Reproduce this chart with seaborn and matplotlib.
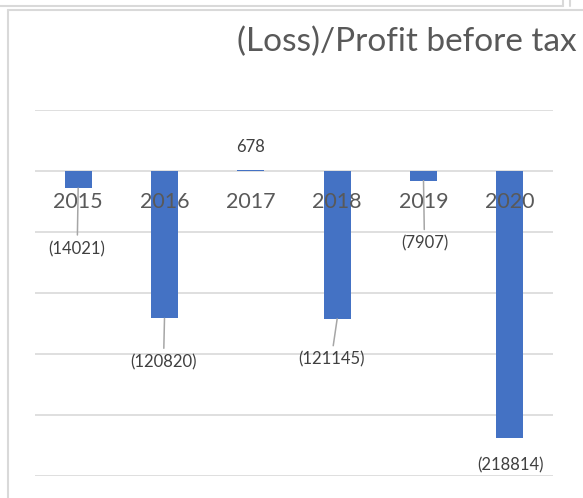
import numpy as np
import pandas as pd
import seaborn as sns
import matplotlib.pyplot as plt
from matplotlib.lines import Line2D

# data
years = ["2015", "2016", "2017", "2018", "2019", "2020"]
profit = [-14021, -120820, 678, -121145, -7907, -218814]
labels = ["(14021)", "(120820)", "678", "(121145)", "(7907)", "(218814)"]
# label offsets from bar end (pixels), and whether a leader line is drawn
lab_dx = [-1, -1, 0, -6, 1, 1]
lab_dy = [-61, -44, 23, -41, -63, -27]
leader = [True, True, False, True, True, False]

df = pd.DataFrame({"Year": years, "Profit": profit})

sns.set_style("white")
plt.rcParams["font.family"] = ["Lato", "DejaVu Sans"]

fig = plt.figure(figsize=(5.83, 4.98), dpi=100)
ax = fig.add_axes([35 / 583, 1 - 476 / 498, 518 / 583, 366 / 498])

sns.barplot(data=df, x="Year", y="Profit", order=years, color="#4472C4",
            saturation=1, width=0.31, linewidth=0, ax=ax, zorder=2)

ax.set_ylim(-250000, 50000)
ax.set_yticks(np.arange(-250000, 50001, 50000))
ax.set_yticklabels([])
ax.set_xticks([])
ax.set_xlabel("")
ax.set_ylabel("")
ax.yaxis.grid(True, color="#d9d9d9", linewidth=1.2, zorder=0)
ax.set_axisbelow(True)
for s in ax.spines.values():
    s.set_visible(False)
ax.tick_params(left=False, bottom=False)

grey = "#595959"
# category labels sitting just below the zero line
for i, y in enumerate(years):
    ax.annotate(y, xy=(i, 0), xytext=(0, -31), textcoords="offset pixels",
                ha="center", va="center", fontsize=15.5, color=grey, zorder=5)

# data labels
for i, v in enumerate(profit):
    ap = None
    if leader[i]:
        ap = dict(arrowstyle="-", color="#a6a6a6", lw=1.1, shrinkA=2, shrinkB=0)
    ax.annotate(labels[i], xy=(i, v), xytext=(lab_dx[i], lab_dy[i]),
                textcoords="offset pixels", ha="center", va="center",
                fontsize=12, color="#404040", arrowprops=ap, zorder=5)

fig.text(577 / 583, 1 - 42 / 498, "(Loss)/Profit before tax", ha="right",
         va="center", fontsize=24, color=grey)

# screenshot frame lines
fc = "#d9d9d9"
fig.add_artist(Line2D([0, 563 / 583], [1 - 6 / 498] * 2, color=fc, lw=1.5))
fig.add_artist(Line2D([563 / 583] * 2, [1, 1 - 6 / 498], color=fc, lw=1.5))
fig.add_artist(Line2D([570 / 583] * 2, [1, 1 - 6 / 498], color=fc, lw=1.5))
fig.add_artist(Line2D([8 / 583, 1], [1 - 10 / 498] * 2, color=fc, lw=1.5))
fig.add_artist(Line2D([8 / 583] * 2, [0, 1 - 10 / 498], color=fc, lw=1.5))

fig.savefig("out.png", dpi=100)
